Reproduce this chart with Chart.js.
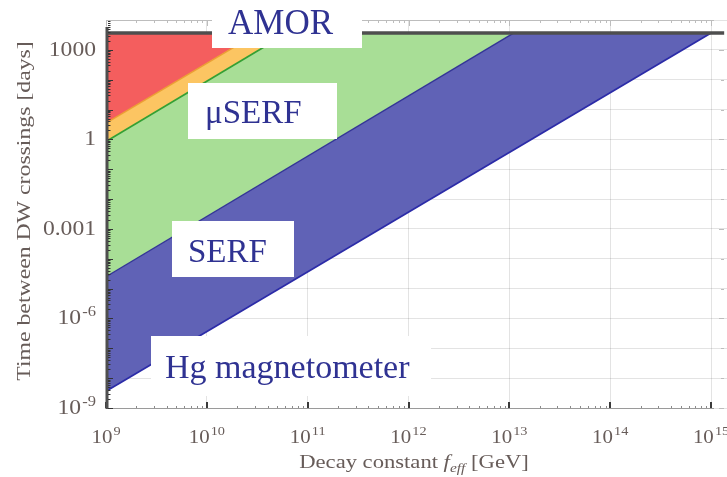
<!DOCTYPE html>
<html>
<head>
<meta charset="utf-8">
<script src="https://cdn.jsdelivr.net/npm/chart.js@4.4.0/dist/chart.umd.min.js"></script>
<style>
  html, body { margin: 0; padding: 0; background: #fff; }
  #wrap { position: relative; width: 727px; height: 477px; }
</style>
</head>
<body>
<div id="wrap"><canvas id="c"></canvas></div>
<script>
// Decay constant range [GeV] and crossing-time range [days]
const fLimits = [1e9, 1.44e15];
const tLimits = [1e-9, 1e4];
// Ten-year observation ceiling [days]
const tCeiling = 3650;

// Sensitivity edges, straight lines in log-log space: [f_eff (GeV), time (days)]
const hgEdge      = [[1e9, 3.65e-9], [1e15, 3650]];
const serfEdge    = [[1e9, 2.5e-5],  [1.1e13, 3650]];
const muSerfEdge  = [[1e9, 0.85],    [6.3e10, 3650]];
const amorEdge    = [[1e9, 3.5],     [3.2e10, 3650]];
const ceilingEdge = [[1e9, 3650],    [1.35e15, 3650]];

const regionNames = ['Hg magnetometer', 'SERF', 'μSERF', 'AMOR'];

const xTickExponents = [9, 10, 11, 12, 13, 14, 15];
const yTickValues = [1e-9, 1e-6, 1e-3, 1, 1e3];
const yTickLabels = [['10', '-9'], ['10', '-6'], ['0.001', ''], ['1', ''], ['1000', '']];

const xTitle = ['Decay constant ', 'f', 'eff', ' [GeV]'];
const yTitle = 'Time between DW crossings [days]';

// ---- styling ----
const SERIF = '"Liberation Serif", "DejaVu Serif", serif';
const ink = {
  axis: '#4f4f4f',
  frame: '#bdbdbd',
  label: '#675c59',
  region: '#2f3292',
  grid: 'rgba(0,0,0,0.11)'
};
const fills = {
  hg: 'rgb(96,98,182)',
  serf: 'rgb(168,222,150)',
  mu: 'rgb(252,197,98)',
  amor: 'rgb(244,94,94)'
};
// label boxes in canvas pixels: [left, top, width, height, textX, baseline, fontSize]
const boxLayout = {
  'AMOR':            [212, 0,   150, 48, 228, 34, 35],
  'μSERF':           [188, 83,  149, 56, 205, 123, 33],
  'SERF':            [172, 221, 122, 56, 188, 262, 33],
  'Hg magnetometer': [151, 336, 280, 60, 165, 378, 34]
};

const pt = ([x, y]) => ({ x, y });
const hgRegion   = [hgEdge[0], hgEdge[1], serfEdge[1], serfEdge[0]].map(pt);
const serfRegion = [serfEdge[0], serfEdge[1], muSerfEdge[1], muSerfEdge[0]].map(pt);
const muRegion   = [muSerfEdge[0], muSerfEdge[1], amorEdge[1], amorEdge[0]].map(pt);
const amorRegion = [amorEdge[0], amorEdge[1], [fLimits[0], tCeiling]].map(pt);

const area = (data, color) => ({
  data, fill: 'shape', backgroundColor: color,
  borderColor: 'rgba(0,0,0,0)', borderWidth: 0, pointRadius: 0, tension: 0, order: 3
});
const edge = (data, color, width, order = 2) => ({
  data: data.map(pt), fill: false, borderColor: color,
  borderWidth: width, pointRadius: 0, tension: 0, order
});

const isDecade = v => {
  const l = Math.log10(v);
  return Math.abs(l - Math.round(l)) < 1e-6;
};

function stretchedText(ctx, s, x, y, font, align, sx) {
  ctx.font = font;
  const w = ctx.measureText(s).width * sx;
  const left = align === 'right' ? x - w : align === 'center' ? x - w / 2 : x;
  ctx.save();
  ctx.translate(left, y);
  ctx.scale(sx, 1);
  ctx.textAlign = 'left';
  ctx.fillText(s, 0, 0);
  ctx.restore();
  return w;
}

function drawPower(ctx, base, exp, x, y, size, align, sx) {
  const bigFont = `${size}px ${SERIF}`;
  const smallFont = `${Math.round(size * 0.7)}px ${SERIF}`;
  ctx.font = bigFont;
  const bw = ctx.measureText(base).width;
  ctx.font = smallFont;
  const ew = exp ? ctx.measureText(exp).width + 1 : 0;
  const total = (bw + ew) * sx;
  const left = align === 'right' ? x - total : align === 'center' ? x - total / 2 : x;
  ctx.save();
  ctx.translate(left, y);
  ctx.scale(sx, 1);
  ctx.textAlign = 'left';
  ctx.textBaseline = 'alphabetic';
  ctx.font = bigFont;
  ctx.fillText(base, 0, 0);
  if (exp) {
    ctx.font = smallFont;
    ctx.fillText(exp, bw + 1, -size * 0.42);
  }
  ctx.restore();
}

const decor = {
  id: 'decor',
  afterDraw(chart) {
    const { ctx, chartArea: a, scales: { x, y } } = chart;
    const xEnd = x.getPixelForValue(1.07e15);
    const yBottom = y.getPixelForValue(tLimits[0]);

    ctx.save();
    ctx.lineCap = 'butt';

    // top frame with inward ticks
    ctx.strokeStyle = ink.frame;
    ctx.lineWidth = 1;
    ctx.beginPath();
    ctx.moveTo(a.left, a.top + 0.5);
    ctx.lineTo(xEnd, a.top + 0.5);
    for (let d = 9; d <= 15; d++) {
      for (let m = 1; m <= 9; m++) {
        const v = m * Math.pow(10, d);
        if (v > 1.0001e15) break;
        const px = Math.round(x.getPixelForValue(v)) + 0.5;
        const len = m === 1 ? 6 : 3;
        ctx.moveTo(px, a.top);
        ctx.lineTo(px, a.top + len);
      }
    }
    ctx.stroke();

    // right frame ticks
    ctx.beginPath();
    for (let d = -9; d <= 3; d++) {
      const py = Math.round(y.getPixelForValue(Math.pow(10, d))) + 0.5;
      const len = d % 3 === 0 ? 5 : 3;
      ctx.moveTo(a.right - 3 - len, py);
      ctx.lineTo(a.right - 3, py);
    }
    ctx.stroke();

    // bottom axis
    ctx.strokeStyle = '#9a9a9a';
    ctx.beginPath();
    ctx.moveTo(a.left, yBottom + 0.5);
    ctx.lineTo(xEnd, yBottom + 0.5);
    ctx.stroke();
    for (let d = 9; d <= 15; d++) {
      for (let m = 1; m <= 9; m++) {
        const v = m * Math.pow(10, d);
        if (v > 1.0001e15) break;
        const px = x.getPixelForValue(v);
        if (m === 1) {
          ctx.fillStyle = '#3a3a3a';
          ctx.fillRect(Math.round(px) - 1, yBottom - 6, 2, 6);
        } else {
          ctx.fillStyle = '#8a8a8a';
          ctx.fillRect(Math.round(px), yBottom - 2, 1, 2);
        }
      }
    }

    // left axis
    const axX = x.getPixelForValue(fLimits[0]) + 1;
    ctx.strokeStyle = ink.axis;
    ctx.lineWidth = 3;
    ctx.beginPath();
    ctx.moveTo(axX, a.top + 7);
    ctx.lineTo(axX, yBottom + 1);
    ctx.stroke();
    ctx.lineWidth = 1;
    ctx.strokeStyle = '#333';
    ctx.beginPath();
    for (let d = -9; d <= 3; d++) {
      for (let m = 1; m <= 9; m++) {
        const v = m * Math.pow(10, d);
        const py = Math.round(y.getPixelForValue(v)) + 0.5;
        const len = m === 1 ? 5 : 2.5;
        ctx.moveTo(axX + 1, py);
        ctx.lineTo(axX + 1 + len, py);
      }
    }
    ctx.stroke();

    // tick labels
    ctx.fillStyle = ink.label;
    xTickExponents.forEach(e => {
      const px = x.getPixelForValue(Math.pow(10, e));
      drawPower(ctx, '10', String(e), px, 443, 19, 'center', 1.1);
    });
    yTickValues.forEach((v, i) => {
      const py = y.getPixelForValue(v);
      const [b, e] = yTickLabels[i];
      drawPower(ctx, b, e, 96, py + 6, 20, 'right', 1.18);
    });

    // axis titles
    ctx.save();
    ctx.translate(24, 211);
    ctx.rotate(-Math.PI / 2);
    ctx.textBaseline = 'alphabetic';
    stretchedText(ctx, yTitle, 0, 6, `19px ${SERIF}`, 'center', 1.25);
    ctx.restore();

    {
      const size = 19, sx = 1.19;
      const roman = `${size}px ${SERIF}`;
      const ital = `italic ${size}px ${SERIF}`;
      const sub = `italic ${Math.round(size * 0.66)}px ${SERIF}`;
      const parts = [[xTitle[0], roman, 0], [xTitle[1], ital, 0], [xTitle[2], sub, 4], [xTitle[3], roman, 0]];
      let total = 0;
      parts.forEach(p => { ctx.font = p[1]; total += ctx.measureText(p[0]).width * sx; });
      let cx = 414 - total / 2;
      ctx.textBaseline = 'alphabetic';
      parts.forEach(p => { cx += stretchedText(ctx, p[0], cx, 468 + p[2], p[1], 'left', sx); });
    }

    // region labels in white boxes
    regionNames.forEach(name => {
      const [bx, by, bw, bh, tx, ty, fs] = boxLayout[name];
      ctx.fillStyle = '#fff';
      ctx.fillRect(bx, by, bw, bh);
      ctx.fillStyle = ink.region;
      ctx.textBaseline = 'alphabetic';
      stretchedText(ctx, name, tx, ty, `${fs}px ${SERIF}`, 'left', 1);
    });

    ctx.restore();
  }
};

const gridColor = c => (c.tick && isDecade(c.tick.value)) ? ink.grid : 'rgba(0,0,0,0)';

new Chart(document.getElementById('c'), {
  type: 'line',
  data: {
    datasets: [
      area(hgRegion, fills.hg),
      area(serfRegion, fills.serf),
      area(muRegion, fills.mu),
      area(amorRegion, fills.amor),
      edge(hgEdge, 'rgb(44,44,168)', 1.8),
      edge(serfEdge, 'rgb(52,54,150)', 1.4),
      edge(muSerfEdge, 'rgb(52,160,52)', 1.8),
      edge(amorEdge, 'rgb(236,160,52)', 1.4),
      edge(ceilingEdge, 'rgb(78,78,78)', 3.5, 1)
    ]
  },
  options: {
    responsive: true,
    maintainAspectRatio: false,
    animation: false,
    layout: { padding: { left: 106, right: 0, top: 20, bottom: 69 } },
    plugins: { legend: { display: false }, tooltip: { enabled: false } },
    scales: {
      x: {
        type: 'logarithmic', min: fLimits[0], max: fLimits[1], z: 1,
        border: { display: false },
        grid: { color: gridColor, drawTicks: false, lineWidth: 1 },
        ticks: { display: false }
      },
      y: {
        type: 'logarithmic', min: tLimits[0], max: tLimits[1], z: 1,
        border: { display: false },
        grid: { color: gridColor, drawTicks: false, lineWidth: 1 },
        ticks: { display: false }
      }
    }
  },
  plugins: [decor]
});
</script>
</body>
</html>
